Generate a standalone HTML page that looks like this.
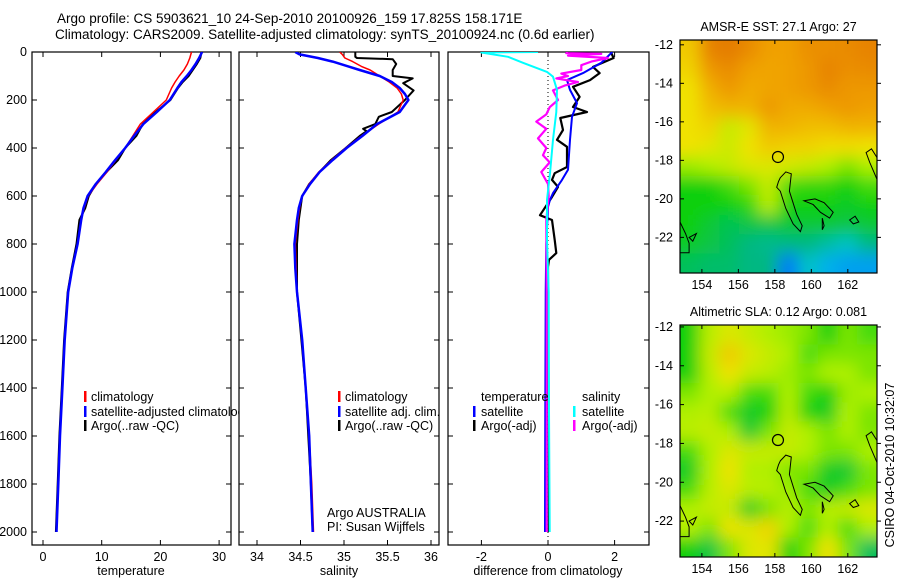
<!DOCTYPE html>
<html><head><meta charset="utf-8">
<style>
html,body{margin:0;padding:0;background:#fff;}
svg{display:block;font-family:"Liberation Sans",sans-serif;}
text{fill:#000;}
</style></head>
<body>
<svg id="fig" width="900" height="580" viewBox="0 0 900 580" xmlns="http://www.w3.org/2000/svg">
<defs>
<filter id="smooth" x="-20%" y="-20%" width="140%" height="140%"><feGaussianBlur stdDeviation="8"/></filter>
<clipPath id="clipTop"><rect x="680" y="40" width="197" height="233"/></clipPath>
<clipPath id="clipBot"><rect x="680" y="325" width="197" height="232"/></clipPath>
<clipPath id="clipP1"><rect x="32" y="52" width="199" height="493"/></clipPath>
<clipPath id="clipP2"><rect x="239" y="52" width="200" height="493"/></clipPath>
<clipPath id="clipP3"><rect x="448" y="52" width="201" height="493"/></clipPath>
</defs>
<text x="57" y="23" font-size="13.5">Argo profile: CS 5903621_10 24-Sep-2010 20100926_159 17.825S 158.171E</text>
<text x="55" y="39" font-size="13.5">Climatology: CARS2009. Satellite-adjusted climatology: synTS_20100924.nc (0.6d earlier)</text>
<g id="root"></g>
</svg>
<script>
// ---------- data ----------
const depthTS = [0,25,50,75,100,125,150,200,250,300,350,400,450,500,550,600,650,700,800,900,1000,1200,1400,1600,1800,2000];
const tempClim = [25.3,25.0,24.6,24.0,23.2,22.5,21.9,21.0,18.8,16.6,15.3,14.0,12.4,10.9,9.2,7.7,7.0,6.5,5.9,5.0,4.3,3.7,3.3,2.9,2.6,2.3];
const tempSat  = [27.1,26.6,26.0,25.3,24.5,23.6,22.9,21.6,19.4,17.1,15.5,14.0,12.3,10.7,9.0,7.6,6.9,6.5,5.9,5.0,4.3,3.7,3.3,2.9,2.6,2.3];
const tempArgo = [27.0,26.8,26.2,25.5,24.8,23.8,23.0,21.7,19.2,17.0,15.9,14.0,12.8,10.8,9.0,7.8,7.2,6.2,5.7,4.9,4.2,3.6,3.2,2.8,2.5,2.2];

const depthSal = [0,10,25,40,60,75,100,125,150,175,200,250,300,350,400,450,500,550,600,650,700,800,900,1000,1200,1400,1600,1800,2000];
const salSat  = [34.44,34.49,34.70,34.87,35.05,35.18,35.41,35.55,35.64,35.70,35.74,35.64,35.38,35.21,35.03,34.87,34.72,34.61,34.52,34.48,34.46,34.43,34.44,34.46,34.52,34.56,34.60,34.62,34.64];
const salClim = [34.95,34.98,35.01,35.10,35.20,35.30,35.41,35.52,35.61,35.66,35.68,35.62,35.40,35.20,35.02,34.86,34.71,34.60,34.52,34.49,34.47,34.44,34.45,34.46,34.52,34.56,34.60,34.63,34.65];
const depthSalArgo = [0,20,25,30,50,75,100,110,130,160,200,250,270,300,320,330,350,400,450,500,550,600,700,800,1000,1200,1400,1600,1800,2000];
const salArgo = [35.13,35.13,35.15,35.56,35.60,35.56,35.56,35.79,35.68,35.80,35.70,35.55,35.40,35.36,35.22,35.26,35.18,35.02,34.85,34.72,34.60,34.52,34.48,34.46,34.46,34.51,34.56,34.59,34.62,34.64];

const depthDT = [0,45,88,117,158,213,270,366,491,533,588,616,645,800,1000,1500,2000];
const diffTempSat = [1.93,1.6,1.05,0.57,0.66,0.87,0.72,0.66,0.6,0.42,0.15,0.06,0.0,-0.05,-0.07,-0.08,-0.09];
const depthDTA = [4,25,62,88,117,145,187,229,250,275,325,366,395,479,505,533,562,604,680,700,783,838,866,895,1000,1500,2000];
const diffTempArgo = [1.9,1.97,1.35,1.55,1.26,0.75,0.95,0.75,1.17,0.37,0.45,0.27,0.57,0.57,0.2,0.12,0.3,0.12,-0.24,0.12,0.2,0.25,0.03,0.0,0.0,0.02,0.02];
const depthDS = [0,2,20,45,83,103,158,250,366,505,616,783,1000,1500,2000];
const diffSalSat = [-0.3,-2.0,-1.2,-0.75,-0.03,0.15,0.27,0.25,0.15,0.06,-0.03,-0.03,0.02,0.03,0.05];
const depthDSA = [0,5,8,15,25,40,55,75,90,100,110,125,140,160,200,230,260,290,320,360,400,430,460,500,550,600,700,1000,1500,2000];
const diffSalArgo = [0.6,0.55,1.6,0.6,1.8,1.3,1.0,1.0,0.4,0.6,0.25,0.9,0.5,0.15,0.3,0.05,-0.05,-0.35,-0.05,-0.3,-0.05,-0.15,0.05,-0.2,0.0,0.02,-0.05,-0.04,-0.04,-0.04];

const depthTicks = [0,200,400,600,800,1000,1200,1400,1600,1800,2000];
const tempTicks = [0,10,20,30];
const salTicks = [34,34.5,35,35.5,36];
const diffTicks = [-2,0,2];
const lonTicks = [154,156,158,160,162];
const latTicks = [-12,-14,-16,-18,-20,-22];

const sstGrid = [
[.80,.95,.97,.93,.88,.88,.92,.92,.93,.95],
[.78,.90,.93,.88,.87,.88,.90,.95,.92,.93],
[.75,.85,.90,.86,.87,.88,.90,.93,.90,.90],
[.75,.82,.84,.84,.90,.86,.86,.88,.90,.88],
[.75,.78,.65,.72,.84,.84,.82,.82,.84,.84],
[.75,.72,.66,.75,.80,.78,.78,.76,.76,.75],
[.58,.60,.65,.70,.70,.68,.65,.60,.55,.60],
[.45,.45,.50,.55,.65,.50,.48,.48,.45,.50],
[.45,.45,.45,.48,.62,.45,.45,.45,.42,.45],
[.45,.40,.36,.38,.38,.40,.40,.40,.38,.40],
[.42,.38,.35,.30,.28,.30,.30,.25,.20,.30],
[.35,.33,.33,.30,.30,.05,.20,.12,.10,.10]];
const slaGrid = [
[.45,.62,.70,.65,.60,.58,.55,.45,.55,.50],
[.45,.65,.80,.70,.65,.60,.50,.55,.55,.55],
[.45,.62,.75,.65,.62,.58,.55,.60,.60,.55],
[.55,.60,.62,.50,.50,.60,.50,.45,.58,.60],
[.60,.62,.50,.42,.45,.62,.45,.42,.60,.55],
[.62,.65,.60,.40,.55,.65,.60,.55,.60,.55],
[.50,.60,.70,.65,.65,.65,.60,.55,.55,.60],
[.42,.60,.75,.60,.60,.55,.55,.42,.40,.55],
[.50,.62,.70,.62,.62,.58,.50,.42,.50,.55],
[.60,.65,.65,.42,.55,.62,.55,.62,.65,.70],
[.62,.55,.75,.70,.78,.60,.50,.60,.50,.60],
[.45,.38,.55,.70,.72,.45,.55,.75,.55,.35]];
const argoLon = 158.171, argoLat = -17.825;
const coastA = [[158.3,-18.9],[158.6,-18.6],[158.9,-18.7],[158.8,-19.6],[159.2,-20.8],[159.5,-21.4],[159.4,-21.7],[159.0,-21.3],[158.6,-20.5],[158.3,-19.6],[158.1,-19.4],[158.2,-19.1]];
const coastB = [[159.6,-20.1],[160.2,-20.0],[160.7,-20.2],[161.2,-20.7],[161.0,-21.0],[160.5,-20.7],[160.1,-20.3]];
const coastC = [[163.7,-19.2],[163.2,-18.1],[163.0,-17.6],[163.3,-17.4],[163.7,-18.0]];
const coastD = [[152.8,-21.2],[153.1,-21.8],[153.3,-22.3],[153.3,-22.8],[152.8,-22.8]];
const coastE = [[153.3,-22.0],[153.7,-21.8],[153.5,-22.2]];
const coastF = [[162.1,-21.1],[162.4,-20.9],[162.6,-21.2],[162.3,-21.3]];
const coastG = [[160.6,-21.0],[160.7,-21.4],[160.6,-21.6]];

// ---------- helpers ----------
const NS = 'http://www.w3.org/2000/svg';
const root = document.getElementById('root');
function mk(tag, attrs, parent){ const e=document.createElementNS(NS,tag); for(const k in attrs) e.setAttribute(k,attrs[k]); (parent||root).appendChild(e); return e; }
const yD = d => 52 + d*0.24;
const xT = t => 43 + t*5.87;
const xS = s => 257 + (s-34)*87;
const xDf = v => 548 + v*33.3;

function panel(x0,x1,name){
  const g = mk('g',{});
  
  
  mk('rect',{x:x0,y:52,width:x1-x0,height:493,fill:'#fff',stroke:'#000','stroke-width':1.2},g);
  depthTicks.forEach(d=>{
    mk('line',{x1:x0,x2:x0+5,y1:yD(d),y2:yD(d),stroke:'#000'},g);
    mk('line',{x1:x1-5,x2:x1,y1:yD(d),y2:yD(d),stroke:'#000'},g);
  });
  return g;
}
function xticks(g,ticks,fx){
  ticks.forEach(t=>{
    const x=fx(t);
    mk('line',{x1:x,x2:x,y1:545,y2:540,stroke:'#000'},g);
    mk('line',{x1:x,x2:x,y1:52,y2:57,stroke:'#000'},g);
    const tx=mk('text',{x:x,y:561,'font-size':12.5,'text-anchor':'middle'},g);
    tx.textContent=String(t);
    
    
  });
}
function line(g,depths,vals,fx,color,w,name,clip){
  const pts = depths.map((d,i)=>fx(vals[i]).toFixed(1)+','+yD(d).toFixed(1)).join(' ');
  const p = mk('polyline',{points:pts,fill:'none',stroke:color,'stroke-width':w,'stroke-linejoin':'round','clip-path':'url(#'+clip+')'},g);
  
  
}
function label(g,x,y,txt,name,opts){
  const t=mk('text',Object.assign({x:x,y:y,'font-size':12.5},opts||{}),g);
  t.textContent=txt;
  
  
  return t;
}
function legBar(g,x,y,color){
  const r=mk('rect',{x:x,y:y-10,width:2.5,height:11,fill:color},g);
  
  
}

// ---------- panel 1 ----------
const p1 = panel(32,231,'temperature-panel');
depthTicks.forEach(d=>{ label(p1,27,yD(d)+4,String(d),'y-tick-label',{'text-anchor':'end'}); });
xticks(p1,tempTicks,xT);
line(p1,depthTS,tempArgo,xT,'#000',2,'temp-argo-line','clipP1');
line(p1,depthTS,tempClim,xT,'#f00',1.5,'temp-climatology-line','clipP1');
line(p1,depthTS,tempSat,xT,'#00f',2.5,'temp-satellite-line','clipP1');
label(p1,131,575,'temperature','x-axis-title',{'text-anchor':'middle'});
legBar(p1,84,401,'#f00'); label(p1,91,401,'climatology','legend-climatology');
legBar(p1,84,416,'#00f'); label(p1,91,416,'satellite-adjusted climatology','legend-satellite-adjusted');
legBar(p1,84,430,'#000'); label(p1,91,430,'Argo(..raw -QC)','legend-argo');

// ---------- panel 2 ----------
const p2 = panel(239,439,'salinity-panel');
xticks(p2,salTicks,xS);
line(p2,depthSalArgo,salArgo,xS,'#000',2,'sal-argo-line','clipP2');
line(p2,depthSal,salClim,xS,'#f00',1.5,'sal-climatology-line','clipP2');
line(p2,depthSal,salSat,xS,'#00f',2.5,'sal-satellite-line','clipP2');
label(p2,339,575,'salinity','x-axis-title',{'text-anchor':'middle'});
legBar(p2,338,401,'#f00'); label(p2,345,401,'climatology','legend-climatology');
legBar(p2,338,416,'#00f'); label(p2,345,416,'satellite adj. clim.','legend-satellite-adj');
legBar(p2,338,430,'#000'); label(p2,345,430,'Argo(..raw -QC)','legend-argo');
label(p2,327,517,'Argo AUSTRALIA','agency-label');
label(p2,327,531,'PI: Susan Wijffels','pi-label');

// ---------- panel 3 ----------
const p3 = panel(448,649,'difference-panel');
xticks(p3,diffTicks,xDf);
const zl = mk('line',{x1:xDf(0),x2:xDf(0),y1:52,y2:545,stroke:'#000','stroke-dasharray':'1,3'},p3);


line(p3,depthDTA,diffTempArgo,xDf,'#000',2.2,'diff-temp-argo-line','clipP3');
line(p3,depthDT,diffTempSat,xDf,'#00f',2,'diff-temp-satellite-line','clipP3');
line(p3,depthDSA,diffSalArgo,xDf,'#f0f',2.2,'diff-sal-argo-line','clipP3');
line(p3,depthDS,diffSalSat,xDf,'#0ff',2,'diff-sal-satellite-line','clipP3');
label(p3,548,575,'difference from climatology','x-axis-title',{'text-anchor':'middle'});
label(p3,481,401,'temperature','legend-temperature-heading');
legBar(p3,473,416,'#00f'); label(p3,481,416,'satellite','legend-temp-satellite');
legBar(p3,473,430,'#000'); label(p3,481,430,'Argo(-adj)','legend-temp-argo');
label(p3,582,401,'salinity','legend-salinity-heading');
legBar(p3,573,416,'#0ff'); label(p3,582,416,'satellite','legend-sal-satellite');
legBar(p3,573,430,'#f0f'); label(p3,582,430,'Argo(-adj)','legend-sal-argo');

// ---------- maps ----------
const stops = [[0,[0,80,255]],[0.15,[0,200,230]],[0.3,[0,184,130]],[0.45,[16,208,16]],[0.6,[176,240,0]],[0.75,[240,226,0]],[0.88,[240,160,0]],[1,[224,110,0]]];
function cmap(v){
  for(let i=1;i<stops.length;i++){
    if(v<=stops[i][0]){
      const a=stops[i-1],b=stops[i],f=(v-a[0])/(b[0]-a[0]);
      const c=a[1].map((x,k)=>Math.round(x+(b[1][k]-x)*f));
      return 'rgb('+c.join(',')+')';
    }
  }
  return 'rgb(224,110,0)';
}
function drawMap(top,bot,latTop,latBot,grid,clip,name,title){
  const L=680,R=877,lonL=152.8,lonR=163.6;
  const mx = lon => L + (lon-lonL)/(lonR-lonL)*(R-L);
  const my = lat => top + (latTop-lat)/(latTop-latBot)*(bot-top);
  const g = mk('g',{});
  
  
  const cg = mk('g',{'clip-path':'url(#'+clip+')'},g);
  const hg = mk('g',{filter:'url(#smooth)'},cg);
  const nr=grid.length, nc=grid[0].length;
  const cw=(lonR-lonL)/nc, ch=(latTop-latBot)/nr;
  grid.forEach((row,r)=>row.forEach((v,c)=>{
    let x0=mx(lonL+c*cw), x1=mx(lonL+(c+1)*cw), y0=my(latTop-r*ch), y1=my(latTop-(r+1)*ch);
    if(c===0) x0-=25; if(c===nc-1) x1+=25; if(r===0) y0-=25; if(r===nr-1) y1+=25;
    const cell=mk('rect',{x:x0,y:y0,width:x1-x0+0.5,height:y1-y0+0.5,fill:cmap(v)},hg);
    
    
  }));
  [coastA,coastB,coastC,coastD,coastE,coastF,coastG].forEach(poly=>{
    const p=mk('polygon',{points:poly.map(q=>mx(q[0]).toFixed(1)+','+my(q[1]).toFixed(1)).join(' '),fill:'none',stroke:'#000','stroke-width':1},cg);
    
    
  });
  const ci=mk('circle',{cx:mx(argoLon),cy:my(argoLat),r:5.5,fill:'none',stroke:'#000','stroke-width':1.2},cg);
  
  
  mk('rect',{x:L,y:top,width:R-L,height:bot-top,fill:'none',stroke:'#000','stroke-width':1.2},g);
  lonTicks.forEach(lon=>{
    const x=mx(lon);
    mk('line',{x1:x,x2:x,y1:bot,y2:bot-4,stroke:'#000'},g);
    mk('line',{x1:x,x2:x,y1:top,y2:top+4,stroke:'#000'},g);
    label(g,x,bot+16,String(lon),'lon-tick-label',{'text-anchor':'middle'});
  });
  latTicks.forEach(lat=>{
    const y=my(lat);
    mk('line',{x1:L,x2:L+4,y1:y,y2:y,stroke:'#000'},g);
    mk('line',{x1:R,x2:R+4,y1:y,y2:y,stroke:'#000'},g);
    label(g,673,y+4,String(lat),'lat-tick-label',{'text-anchor':'end'});
  });
  label(g,(L+R)/2,top-9,title,'map-title',{'text-anchor':'middle'});
}
drawMap(40,273,-11.75,-23.85,sstGrid,'clipTop','sst-map','AMSR-E SST: 27.1 Argo: 27');
drawMap(325,557,-11.9,-23.85,slaGrid,'clipBot','sla-map','Altimetric SLA: 0.12 Argo: 0.081');
label(root,0,0,'CSIRO 04-Oct-2010 10:32:07','timestamp-label',{'text-anchor':'middle',transform:'translate(894,465) rotate(-90)'});
</script>
</body></html>
